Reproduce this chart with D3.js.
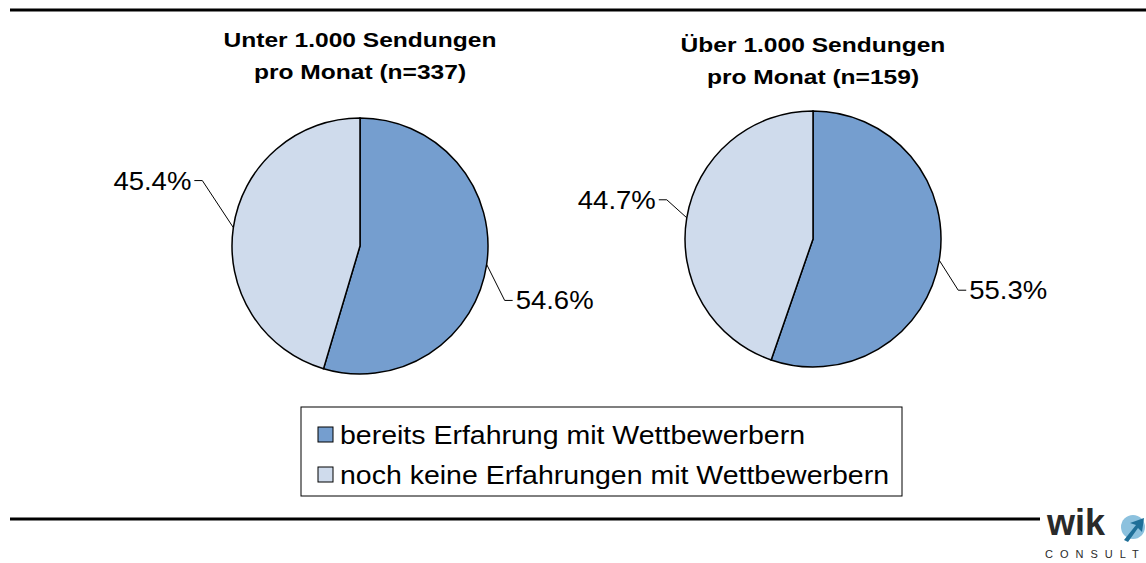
<!DOCTYPE html>
<html>
<head>
<meta charset="utf-8">
<script src="https://cdn.jsdelivr.net/npm/d3@7"></script>
<style>
  body { margin: 0; background: #fff; }
  svg { display: block; font-family: Arial, "Liberation Sans", sans-serif; }
</style>
</head>
<body>
<svg id="chart" width="1146" height="563"></svg>
<script>
const CATEGORIES = ["bereits Erfahrung mit Wettbewerbern", "noch keine Erfahrungen mit Wettbewerbern"];
const COLORS = ["#759ecf", "#cfdbec"];
const PIE_TITLES = [
    ["Unter 1.000 Sendungen", "pro Monat (n=337)"],
    ["Über 1.000 Sendungen", "pro Monat (n=159)"],
];
const SMALL_VALUES = [54.6, 45.4];
const LARGE_VALUES = [55.3, 44.7];

const svg = d3.select("#chart");
const radius = 128;

// layout for each pie: centre, title position, leader elbow offsets per slice
const pies = [
    { values: SMALL_VALUES, title: PIE_TITLES[0], cx: 360, cy: 246, ty: 47,
      elbows: [[18, 36], [-31, -47]] },
    { values: LARGE_VALUES, title: PIE_TITLES[1], cx: 813, cy: 239, ty: 52,
      elbows: [[19, 30], [-20, -18]] },
];

// the source picture is stretched horizontally, so text is scaled in x
const addText = (parent, x, y, str, size, sx, anchor) =>
    parent.append("text")
        .attr("transform", `translate(${x},${y}) scale(${sx},1)`)
        .attr("text-anchor", anchor || "start")
        .attr("font-size", size)
        .text(str);

// frame lines
svg.append("line").attr("x1", 10).attr("x2", 1146).attr("y1", 10).attr("y2", 10)
    .attr("stroke", "#000").attr("stroke-width", 3);
svg.append("line").attr("x1", 10).attr("x2", 1040).attr("y1", 519).attr("y2", 519)
    .attr("stroke", "#000").attr("stroke-width", 3);

const pie = d3.pie().sort(null).value((d) => d);
const arc = d3.arc().innerRadius(0).outerRadius(radius);

pies.forEach((p) => {
    addText(svg, p.cx, p.ty, p.title[0], 21, 1.17, "middle").attr("font-weight", "bold");
    addText(svg, p.cx, p.ty + 32, p.title[1], 21, 1.17, "middle").attr("font-weight", "bold");

    const g = svg.append("g").attr("transform", `translate(${p.cx},${p.cy})`);
    const arcs = pie(p.values);
    g.selectAll("path.slice").data(arcs).enter().append("path")
        .attr("class", "slice")
        .attr("d", arc)
        .attr("fill", (d, i) => COLORS[i])
        .attr("stroke", "#000").attr("stroke-width", 1.5);

    arcs.forEach((d, i) => {
        const mid = (d.startAngle + d.endAngle) / 2;
        const ax = radius * Math.sin(mid);
        const ay = -radius * Math.cos(mid);
        const ex = ax + p.elbows[i][0];
        const ey = ay + p.elbows[i][1];
        const side = ex > 0 ? 1 : -1;
        const hx = ex + side * 8;
        g.append("polyline")
            .attr("points", `${ax},${ay} ${ex},${ey} ${hx},${ey}`)
            .attr("fill", "none").attr("stroke", "#000").attr("stroke-width", 1);
        addText(g, hx + side * 3, ey + 9, d3.format(".1f")(d.data) + "%", 25, 1.1,
            side > 0 ? "start" : "end");
    });
});

// legend
const legend = svg.append("g").attr("transform", "translate(301,407)");
legend.append("rect").attr("width", 601).attr("height", 89)
    .attr("fill", "#fff").attr("stroke", "#000").attr("stroke-width", 1);
CATEGORIES.forEach((c, i) => {
    const y = 28 + i * 40;
    legend.append("rect").attr("x", 17).attr("y", y - 8).attr("width", 15).attr("height", 15)
        .attr("fill", COLORS[i]).attr("stroke", "#000").attr("stroke-width", 1);
    addText(legend, 39, y + 9, c, 25, 1.14);
});

// logo
const logo = svg.append("g");
logo.append("text").attr("x", 1047).attr("y", 535)
    .attr("font-size", 36).attr("font-weight", "600").attr("fill", "#2a2a2a")
    .text("wik");
logo.append("circle").attr("cx", 1133).attr("cy", 527).attr("r", 12).attr("fill", "#8cc1de");
logo.append("path").attr("d", "M1124,540 L1136,525 L1130,523 L1144,518 L1142,532 L1138,528 L1128,542 Z")
    .attr("fill", "#1f6f98");
logo.append("text").attr("x", 1045).attr("y", 558)
    .attr("font-size", 11).attr("letter-spacing", 7).attr("fill", "#2a2a2a").text("CONSULT");
</script>
</body>
</html>
